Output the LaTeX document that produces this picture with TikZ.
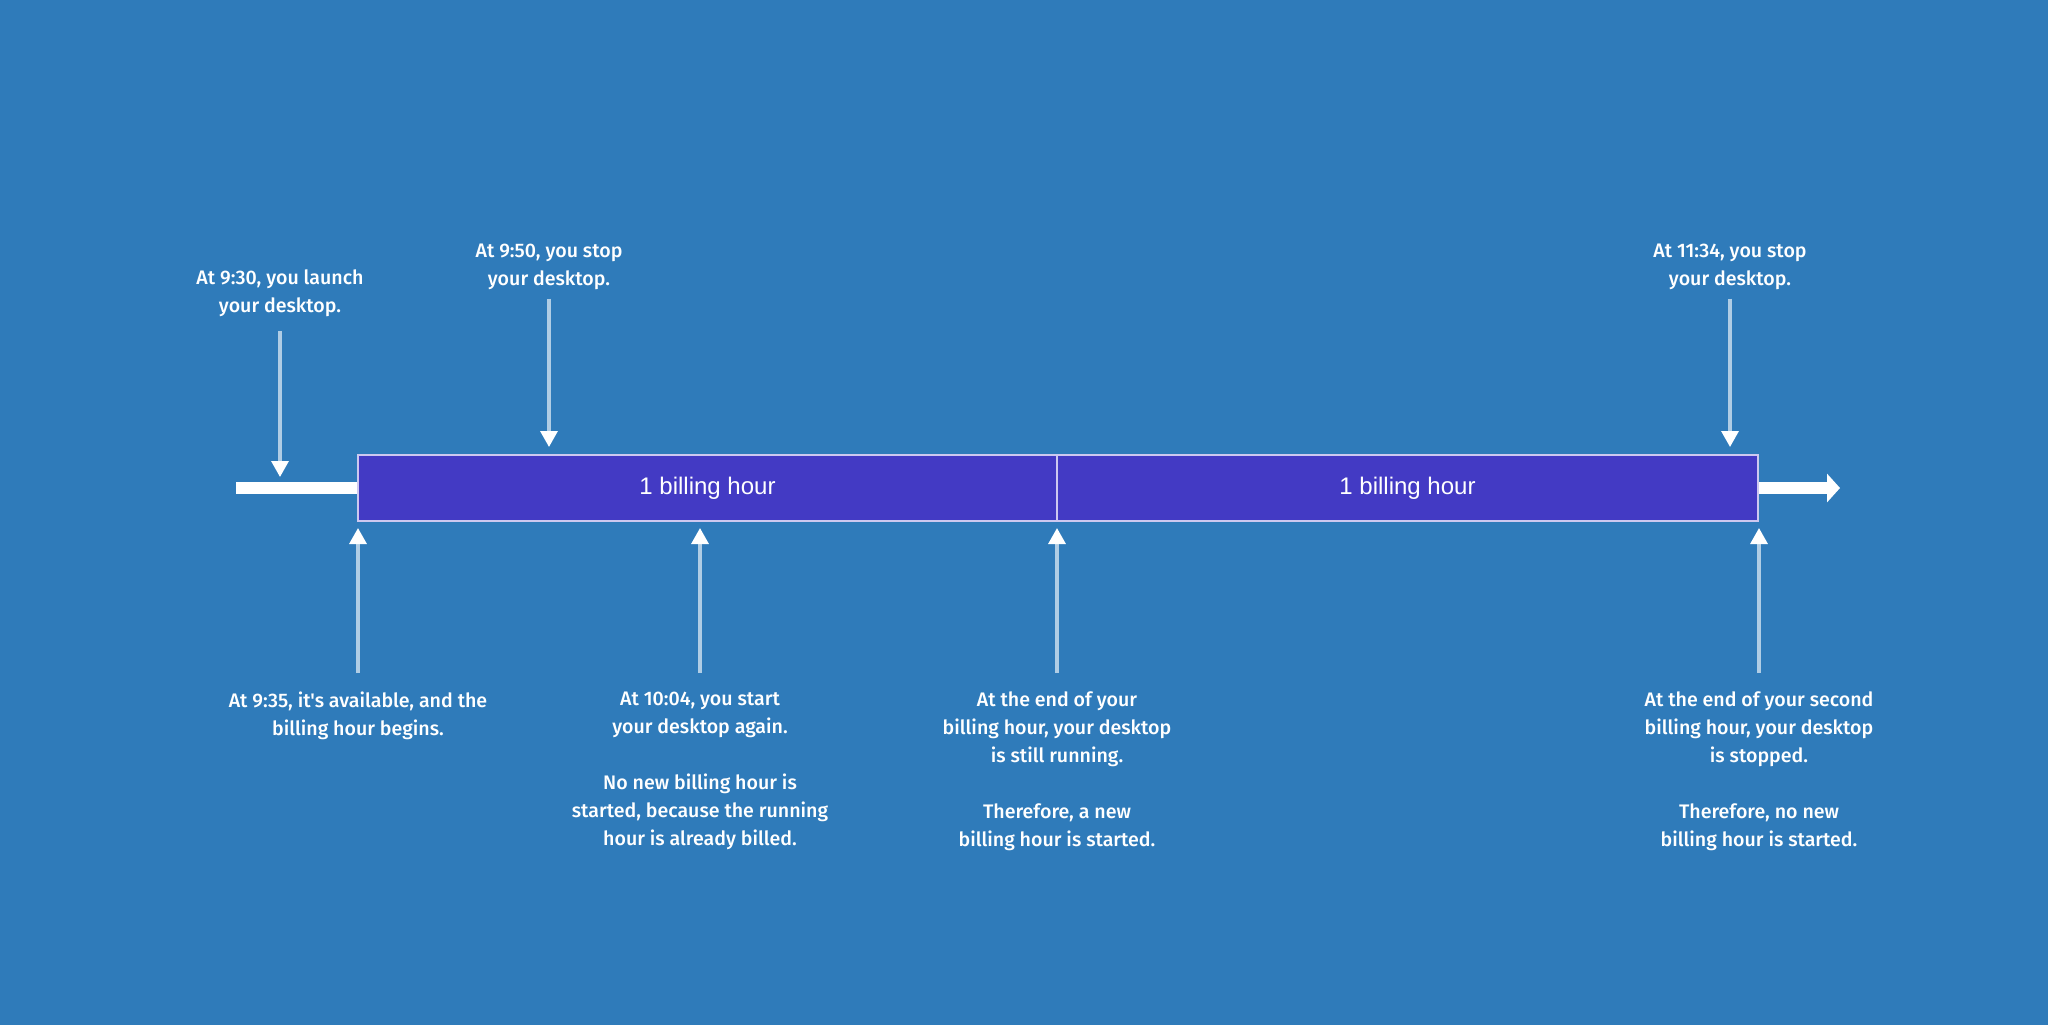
\documentclass[tikz,border=0pt]{standalone}
\usepackage{fontspec}
\usetikzlibrary{arrows.meta,calc}
\newfontfamily\annfont{Fira Sans Medium}
\newfontfamily\boxfont{Liberation Sans}
\definecolor{bg}{RGB}{47,123,186}
\definecolor{boxfill}{RGB}{67,58,196}
\definecolor{boxline}{RGB}{205,200,240}
\colorlet{shaftc}{white!62!bg}
\begin{document}
\begin{tikzpicture}[x=0.5pt,y=-0.5pt,
  ann/.style={font=\annfont\fontsize{9.8}{14}\selectfont, text=white, align=center, inner sep=0pt, anchor=north},
  hourbox/.style={draw=boxline, line width=1pt, fill=boxfill, minimum height=33pt, inner sep=0pt, outer sep=0pt, font=\boxfont\fontsize{12}{14}\selectfont, text=white, anchor=north west},
  pointer/.style={draw=shaftc, line width=1.6pt, -{Triangle[color=white,length=8pt,width=8.5pt]}},
  timeline/.style={draw=white, line width=6pt}]
\useasboundingbox (0,0) rectangle (2048,1024);
\fill[bg] (-20,-20) rectangle (2068,1044);
% timeline
\coordinate (tl) at (236,488);
\coordinate (tr) at (1840,488);
\node[hourbox, minimum width=349.5pt] (box1) at (358,455) {1 billing hour};
\node[hourbox, minimum width=350.5pt] (box2) at (box1.north east) {1 billing hour};
\draw[timeline, shorten >=0.5pt] (tl) -- (box1.west);
\draw[timeline, shorten <=0.5pt, -{Triangle[length=6.5pt,width=14pt]}] (box2.east) -- (tr);
% top notes
\node[ann] (t930) at (280,269) {At 9:30, you launch\\your desktop.};
\node[ann] (t950) at (549,244) {At 9:50, you stop\\your desktop.};
\node[ann] (t1134) at (1730,244) {At 11:34, you stop\\your desktop.};
% bottom notes
\node[ann] (t935) at (358,691) {At 9:35, it's available, and the\\billing hour begins.};
\node[ann] (t1004) at (700,692) {At 10:04, you start\\your desktop again.\\[14pt]No new billing hour is\\started, because the running\\hour is already billed.};
\node[ann] (tend1) at (1057,691) {At the end of your\\billing hour, your desktop\\is still running.\\[14pt]Therefore, a new\\billing hour is started.};
\node[ann] (tend2) at (1759,691) {At the end of your second\\billing hour, your desktop\\is stopped.\\[14pt]Therefore, no new\\billing hour is started.};
% pointers down
\draw[pointer, shorten <=7pt] (t930.south) -- ($(t930.south |- box1.west)+(0,-11)$);
\draw[pointer, shorten <=4pt] (t950.south) -- ($(t950.south |- box1.north)+(0,-8)$);
\draw[pointer, shorten <=4pt] (t1134.south) -- ($(t1134.south |- box2.north)+(0,-8)$);
% pointers up
\draw[pointer, shorten <=9pt] (t935.north) -- ($(t935.north |- box1.south)+(0,7)$);
\draw[pointer, shorten <=9.5pt] (t1004.north) -- ($(t1004.north |- box1.south)+(0,7)$);
\draw[pointer, shorten <=9pt] (tend1.north) -- ($(tend1.north |- box1.south)+(0,7)$);
\draw[pointer, shorten <=9pt] (tend2.north) -- ($(tend2.north |- box2.south)+(0,7)$);
\end{tikzpicture}
\end{document}
